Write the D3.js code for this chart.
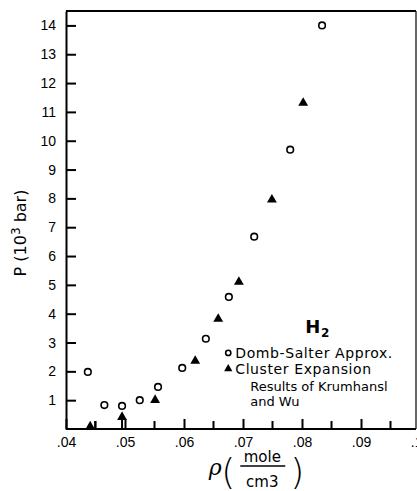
<!doctype html>
<html>
<head>
<meta charset="utf-8">
<title>H2 pressure vs density</title>
<style>
  body { margin: 0; background: #fff; }
  svg { font-family: "DejaVu Sans", sans-serif; }
  .axis path, .axis line { stroke: #000; stroke-width: 2; }
  .axis text { font-size: 14px; fill: #000; }
  .frame { fill: none; stroke: #000; }
  .dsalter { fill: #fff; stroke: #000; stroke-width: 1.6; }
  .cluster { fill: #000; }
  .legend text { font-size: 14px; letter-spacing: 0.6px; }
  .legend text.more { font-size: 13px; letter-spacing: 0; }
</style>
</head>
<body>
<div id="plot"></div>
<script src="https://d3js.org/d3.v7.min.js"></script>
<script>

// Domb-Salter approximation (open circles)
var dsRho = [0.0437, 0.0465, 0.0495, 0.0525, 0.0556, 0.0597, 0.0637, 0.0676, 0.0719, 0.0780, 0.0834];
var dsP   = [1.98,   0.83,   0.80,   1.00,   1.46,   2.12,   3.13,   4.58,   6.67,   9.69,   14.0];

// Cluster expansion, Krumhansl and Wu (filled triangles)
var ceRho = [0.0441, 0.0495, 0.0551, 0.0619, 0.0658, 0.0693, 0.0749, 0.0802];
var ceP   = [0.05,   0.38,   0.97,   2.33,   3.78,   5.07,   7.92,   11.28];
// triangles that carry a small arrow stem down to the axis
var ceArrow = [true, true, false, false, false, false, false, false];

var xTicks = [0.04, 0.05, 0.06, 0.07, 0.08, 0.09, 0.10];
var xMinor = [0.045, 0.055, 0.065, 0.075, 0.085, 0.095];
var yTicks = [1, 2, 3, 4, 5, 6, 7, 8, 9, 10, 11, 12, 13, 14];

var legendItems = ["Domb-Salter Approx.", "Cluster  Expansion"];
var legendMore = ["Results of Krumhansl", "and Wu"];

var W = 417, H = 491;
var margin = { top: 11, right: 1, bottom: 62, left: 66 },
    width = W - margin.left - margin.right,
    height = H - margin.top - margin.bottom;

var x = d3.scaleLinear().domain([0.04, 0.10]).range([0, 354]);
var y = d3.scaleLinear().domain([0, 14.5]).range([height, 0]);

var svg = d3.select("#plot").append("svg")
    .attr("width", W).attr("height", H)
  .append("g")
    .attr("transform", "translate(" + margin.left + "," + margin.top + ")");

// frame: top and right
svg.append("line").attr("class", "frame")
    .attr("x1", 0).attr("x2", width).attr("y1", 0).attr("y2", 0)
    .attr("stroke-width", 2);
svg.append("line").attr("class", "frame")
    .attr("x1", width).attr("x2", width).attr("y1", 0).attr("y2", height)
    .attr("stroke-width", 1.2);

// x axis, ticks pointing inward
var fmt = function (d) { return d3.format(".2f")(d).replace(/^0/, ""); };
var gx = svg.append("g").attr("class", "axis")
    .attr("transform", "translate(0," + height + ")")
    .call(d3.axisBottom(x).tickValues(xTicks).tickFormat(fmt)
        .tickSizeInner(-10).tickSizeOuter(0).tickPadding(8));
gx.select(".domain").attr("d", "M0,0H" + width);
gx.selectAll(".minor").data(xMinor).enter().append("line")
    .attr("class", "minor")
    .attr("x1", function (d) { return x(d); }).attr("x2", function (d) { return x(d); })
    .attr("y1", 0).attr("y2", -8)
    .attr("stroke", "#000").attr("stroke-width", 2);

// y axis
svg.append("g").attr("class", "axis")
    .call(d3.axisLeft(y).tickValues(yTicks).tickFormat(d3.format("d"))
        .tickSizeInner(-10).tickSizeOuter(0).tickPadding(10));

// y title
svg.append("text")
    .attr("transform", "translate(" + (-40) + "," + y(6.8) + ") rotate(-90)")
    .attr("text-anchor", "middle")
    .style("font-size", "16px")
    .html('P (10<tspan dy="-6" font-size="12">3</tspan><tspan dy="6"> bar)</tspan>');

// x title
var xt = svg.append("g").attr("transform", "translate(" + x(0.0692) + "," + (height + 46) + ")");
xt.append("text").attr("x", -23).attr("y", 0).attr("text-anchor", "middle")
    .style("font-size", "22px").style("font-style", "italic").style("font-family", "DejaVu Serif, serif")
    .text("\u03c1");
xt.append("text").attr("x", -10).attr("y", 9).attr("text-anchor", "middle")
    .style("font-size", "36px").style("font-weight", "200").text("(");
xt.append("text").attr("x", 59).attr("y", 9).attr("text-anchor", "middle")
    .style("font-size", "36px").style("font-weight", "200").text(")");
xt.append("text").attr("x", 24).attr("y", -13).attr("text-anchor", "middle")
    .style("font-size", "15px").text("mole");
xt.append("line").attr("x1", 2).attr("x2", 47).attr("y1", -9).attr("y2", -9)
    .attr("stroke", "#000").attr("stroke-width", 1.6);
xt.append("text").attr("x", 24).attr("y", 12).attr("text-anchor", "middle")
    .style("font-size", "15px").text("cm3");

// Domb-Salter circles
svg.selectAll(".dsalter").data(dsRho).enter().append("circle")
    .attr("class", "dsalter")
    .attr("cx", function (d) { return x(d); })
    .attr("cy", function (d, i) { return y(dsP[i]); })
    .attr("r", 3.3);

// Cluster-expansion triangles
var tri = d3.symbol().type(d3.symbolTriangle).size(42);
var ce = ceRho.map(function (d, i) { return { rho: d, p: ceP[i], arrow: ceArrow[i] }; });
svg.selectAll(".stem").data(ce.filter(function (d) { return d.arrow; })).enter().append("line")
    .attr("class", "stem")
    .attr("x1", function (d, i) { return x(d.rho) + (i === 0 ? 5 : 0); })
    .attr("x2", function (d, i) { return x(d.rho) + (i === 0 ? 5 : 0); })
    .attr("y1", function (d, i) { return i === 0 ? y(0) - 8 : y(d.p); })
    .attr("y2", y(0))
    .attr("stroke", "#000").attr("stroke-width", 2);
svg.selectAll(".cluster").data(ce).enter().append("path")
    .attr("class", "cluster")
    .attr("transform", function (d) { return "translate(" + x(d.rho) + "," + (y(d.p) - 1) + ")"; })
    .attr("d", tri);

// legend
var lg = svg.append("g").attr("class", "legend")
    .attr("transform", "translate(" + x(0.0675) + "," + y(2.64) + ")");
lg.append("text").attr("x", 77).attr("y", -20)
    .style("font-size", "18px").style("font-weight", "bold")
    .html('H<tspan dy="4" font-size="12">2</tspan>');
lg.append("circle").attr("class", "dsalter").attr("cx", 0).attr("cy", 0).attr("r", 2.6);
lg.append("path").attr("class", "cluster").attr("d", d3.symbol().type(d3.symbolTriangle).size(30))
    .attr("transform", "translate(0,16)");
lg.selectAll(".item").data(legendItems).enter().append("text")
    .attr("class", "item")
    .attr("x", 7).attr("y", function (d, i) { return 5 + i * 16; })
    .text(function (d) { return d; });
lg.selectAll(".more").data(legendMore).enter().append("text")
    .attr("class", "more")
    .attr("x", 22).attr("y", function (d, i) { return 38 + i * 15; })
    .text(function (d) { return d; });

</script>
</body>
</html>
